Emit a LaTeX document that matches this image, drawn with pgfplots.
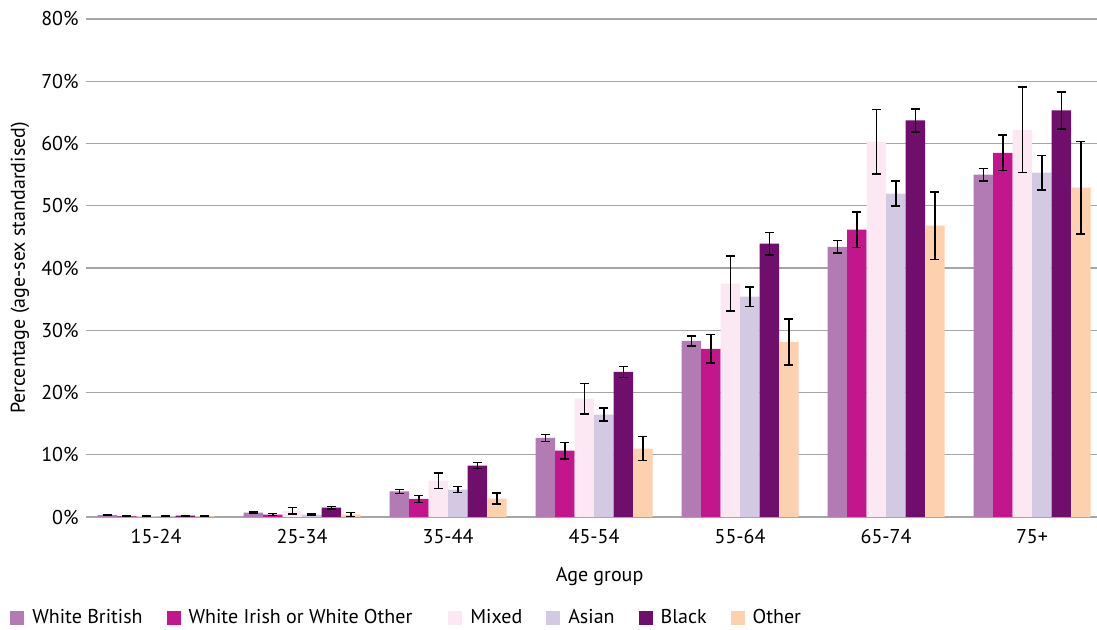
\documentclass[border=0pt]{standalone}
\usepackage{fontspec}
\setmainfont{PT Sans}
\usepackage{pgfplots}
\usepackage{pgfplotstable}
\pgfplotsset{compat=1.18}

\definecolor{cWB}{HTML}{B27BB4}
\definecolor{cWIO}{HTML}{C4168C}
\definecolor{cMX}{HTML}{FCE8F2}
\definecolor{cAS}{HTML}{D3C9E3}
\definecolor{cBL}{HTML}{6F0F6B}
\definecolor{cOT}{HTML}{FDD0AE}
\definecolor{gridgray}{HTML}{A6A6A6}

% percentage (age-sex standardised) and half-width of the confidence interval
\pgfplotstableread{
g  WB    WBe   WIO   WIOe  MX    MXe   AS    ASe   BL    BLe   OT    OTe
0  0.3   0.05  0.1   0.05  0.1   0.05  0.1   0.05  0.2   0.05  0.1   0.05
1  0.7   0.1   0.4   0.15  1.0   0.55  0.4   0.1   1.5   0.2   0.4   0.35
2  4.1   0.35  2.9   0.55  5.85  1.25  4.4   0.5   8.25  0.5   2.95  0.9
3  12.7  0.55  10.65 1.3   19.0  2.45  16.45 1.05  23.3  0.9   11.0  1.95
4  28.3  0.8   27.0  2.3   37.5  4.4   35.4  1.55  43.9  1.8   28.1  3.7
5  43.4  1.0   46.15 2.85  60.3  5.2   51.95 2.0   63.7  1.85  46.8  5.4
6  55.0  1.0   58.5  2.85  62.2  6.9   55.3  2.75  65.3  3.0   52.9  7.4
}\agedata

\pgfplotsset{
  groupbar/.style={
    ybar, bar width=0.1336, bar shift=0pt, draw=none, fill=#1,
    legend image code/.code={\fill[##1] (0pt,-3.5pt) rectangle (7pt,3.5pt);},
    error bars/.cd, y dir=both, y explicit,
      error bar style={line width=0.75pt, black},
      error mark options={rotate=90, mark size=2.2pt, line width=0.75pt, black},
  },
}

\begin{document}
\begin{tikzpicture}
\useasboundingbox (0,0) rectangle (548.5pt,315pt);
\begin{axis}[
  at={(43pt,56.5pt)}, anchor=south west,
  scale only axis, width=505.5pt, height=249pt,
  font=\fontsize{10}{12}\selectfont,
  xmin=-0.48, xmax=6.445, ymin=0, ymax=80,
  xtick={0,...,6},
  xticklabels={15-24,25-34,35-44,45-54,55-64,65-74,75+},
  ytick={0,10,...,80},
  yticklabels={0\%,10\%,20\%,30\%,40\%,50\%,60\%,70\%,80\%},
  axis line style={draw=none},
  tick style={draw=none},
  ymajorgrids, grid style={gridgray, line width=0.65pt},
  xticklabel style={anchor=center, yshift=-10pt},
  yticklabel style={anchor=east, inner sep=0pt, xshift=-3.5pt},
  xlabel={Age group},
  ylabel={Percentage (age-sex standardised)},
  every axis x label/.style={at={(axis description cs:0.508,-0.1205)}, anchor=center},
  every axis y label/.style={at={(axis description cs:-0.0653,0.5)}, anchor=center, rotate=90},
  legend columns=6,
  legend style={at={(axis description cs:-0.0752,-0.2028)}, anchor=west,
    draw=none, fill=none, inner sep=0pt,
    nodes={inner sep=0pt, anchor=west},
    /tikz/every odd column/.append style={column sep=4pt},
    /tikz/every even column/.append style={column sep=12pt}},
]
\addplot[groupbar=cWB]  table[x expr=\thisrow{g}-0.334,  y=WB, y error=WBe]  {\agedata};
\addplot[groupbar=cWIO] table[x expr=\thisrow{g}-0.2004, y=WIO, y error=WIOe] {\agedata};
\addplot[groupbar=cMX]  table[x expr=\thisrow{g}-0.0668, y=MX, y error=MXe]  {\agedata};
\addplot[groupbar=cAS]  table[x expr=\thisrow{g}+0.0668, y=AS, y error=ASe]  {\agedata};
\addplot[groupbar=cBL]  table[x expr=\thisrow{g}+0.2004, y=BL, y error=BLe]  {\agedata};
\addplot[groupbar=cOT]  table[x expr=\thisrow{g}+0.334,  y=OT, y error=OTe]  {\agedata};
\legend{White British, White Irish or White Other\hspace*{6pt}, Mixed, Asian, Black, Other}
\end{axis}
\end{tikzpicture}
\end{document}
